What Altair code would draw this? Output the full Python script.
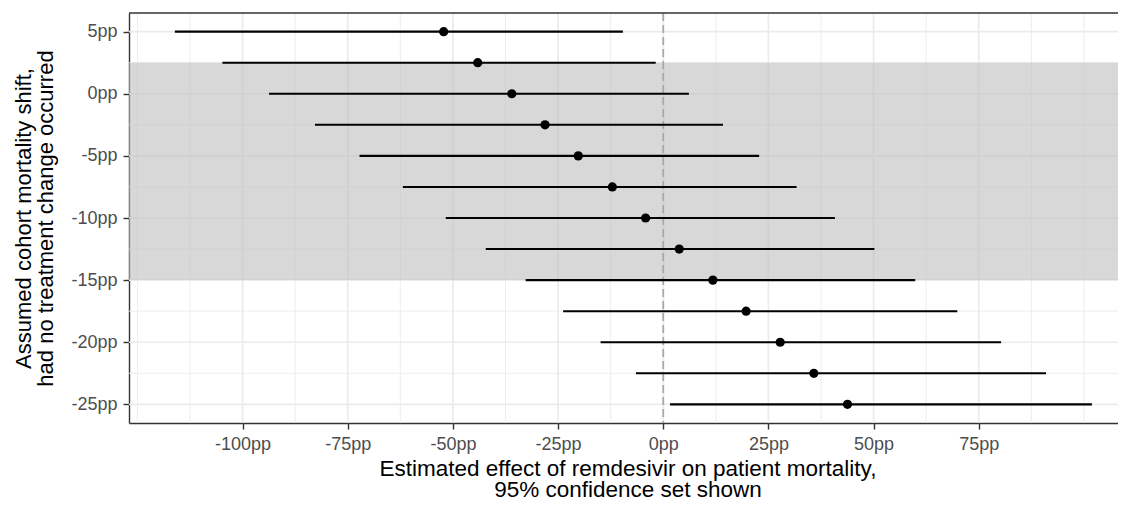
import altair as alt
import pandas as pd

# ---- data ----
shift = [5, 2.5, 0, -2.5, -5, -7.5, -10, -12.5, -15, -17.5, -20, -22.5, -25]
estimate = [-52.2, -44.1, -36.0, -28.1, -20.2, -12.1, -4.2, 3.8, 11.8, 19.7, 27.8, 35.8, 43.8]
lower = [-116.1, -104.8, -93.7, -82.8, -72.2, -61.9, -51.7, -42.2, -32.7, -23.8, -14.9, -6.5, 1.6]
upper = [-9.6, -1.8, 6.1, 14.2, 22.8, 31.7, 40.8, 50.2, 59.9, 69.9, 80.3, 91.0, 101.9]

x_ticks = [-100, -75, -50, -25, 0, 25, 50, 75]
x_minor = [-125, -112.5, -87.5, -62.5, -37.5, -12.5, 12.5, 37.5, 62.5, 87.5, 100]
y_ticks = [-25, -20, -15, -10, -5, 0, 5]
y_minor = [-22.5, -17.5, -12.5, -7.5, -2.5, 2.5]
shade_lo = [-15]
shade_hi = [2.5]
ref_line = [0]

x_title = ["Estimated effect of remdesivir on patient mortality,", "95% confidence set shown"]
y_title = ["Assumed cohort mortality shift,", "had no treatment change occurred"]

W, H = 989, 410
FONT = "Liberation Sans"

df = pd.DataFrame({"shift": shift, "estimate": estimate, "lower": lower, "upper": upper})

xs = alt.Scale(domain=[-127, 108.1], nice=False, zero=False)
ys = alt.Scale(domain=[-26.5, 6.5], nice=False, zero=False)

x_axis = alt.Axis(values=x_ticks, labelExpr="datum.value + 'pp'", grid=False,
                  titleX=W / 2 + 4, titleY=34, titleAlign="center", titleBaseline="top",
                  titleLineHeight=21, titleFontSize=22.5, labelPadding=6)
y_axis = alt.Axis(values=y_ticks, labelExpr="datum.value + 'pp'", grid=False,
                  titleX=-99, titleY=H / 2, titleAngle=270, titleAlign="center",
                  titleBaseline="alphabetic", titleLineHeight=22, titleFontSize=22,
                  labelPadding=6)


def X(field):
    return alt.X(field, scale=xs, axis=x_axis, title=x_title)


def Y(field):
    return alt.Y(field, scale=ys, axis=y_axis, title=y_title)


vgrid_minor = alt.Chart(pd.DataFrame({"v": x_minor})).mark_rule(
    color="#ebebeb", strokeWidth=0.9).encode(x=X("v:Q"))
vgrid_major = alt.Chart(pd.DataFrame({"v": x_ticks})).mark_rule(
    color="#ebebeb", strokeWidth=1.7).encode(x=X("v:Q"))
hgrid_minor = alt.Chart(pd.DataFrame({"v": y_minor})).mark_rule(
    color="#ebebeb", strokeWidth=0.9).encode(y=Y("v:Q"))
hgrid_major = alt.Chart(pd.DataFrame({"v": y_ticks})).mark_rule(
    color="#ebebeb", strokeWidth=1.6).encode(y=Y("v:Q"))

shade = alt.Chart(pd.DataFrame({"lo": shade_lo, "hi": shade_hi})).mark_rect(
    color="#bebebe", opacity=0.6).encode(
    y=Y("lo:Q"), y2="hi:Q",
    x=alt.value(0), x2=alt.value(W))

zero_line = alt.Chart(pd.DataFrame({"x": ref_line})).mark_rule(
    color="#a9a9a9", strokeWidth=1.8, strokeDash=[8, 4]).encode(x=X("x:Q"))

bars = alt.Chart(df).mark_rule(color="black", strokeWidth=2.1).encode(
    x=X("lower:Q"), x2="upper:Q", y=Y("shift:Q"))

points = alt.Chart(df).mark_circle(color="black", size=85, opacity=1).encode(
    x=X("estimate:Q"), y=Y("shift:Q"))

top_border = alt.Chart(pd.DataFrame({"a": [0]})).mark_rule(
    color="#333333", strokeWidth=1.4).encode(
    x=alt.value(0), x2=alt.value(W), y=alt.value(0))

chart = alt.layer(
    vgrid_minor, vgrid_major, hgrid_minor, hgrid_major,
    shade, zero_line, bars, points, top_border
).properties(
    width=W, height=H,
    autosize=alt.AutoSizeParams(type="none"),
    padding={"left": 121, "top": 5, "right": 0, "bottom": 75},
).configure_view(stroke=None).configure_axis(
    labelFont=FONT, labelFontSize=18, labelColor="#4d4d4d",
    titleFont=FONT, titleColor="black", titleFontWeight="normal",
    domainColor="#333333", domainWidth=1.4,
    tickColor="#333333", tickWidth=1.4, tickSize=6,
)

chart.save("out.html", embed_options={"renderer": "svg", "actions": False})
